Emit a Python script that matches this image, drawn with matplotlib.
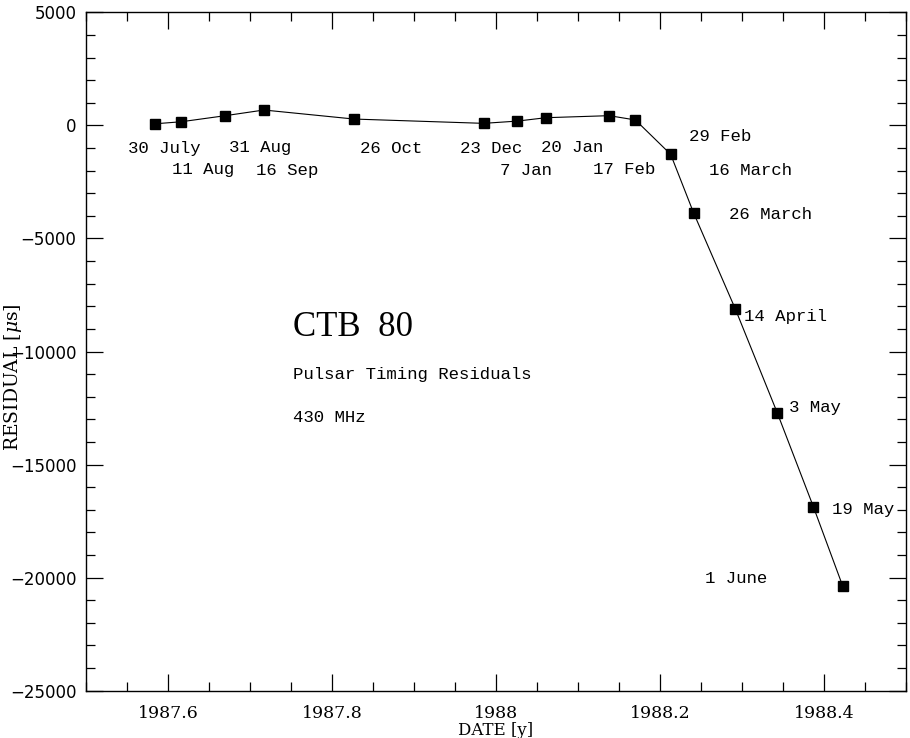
import matplotlib
matplotlib.use("Agg")
import matplotlib.pyplot as plt
from matplotlib.ticker import MultipleLocator, FuncFormatter

# observation epochs (decimal years) and timing residuals (microseconds)
dates = [1987.584, 1987.616, 1987.670, 1987.717, 1987.827, 1987.985, 1988.026, 1988.061,
         1988.138, 1988.170, 1988.213, 1988.241, 1988.292, 1988.343, 1988.387, 1988.423]
residuals = [70, 160, 430, 680, 280, 90, 190, 340,
             430, 240, -1280, -3870, -8130, -12710, -16860, -20390]
date_labels = ["30 July", "11 Aug", "31 Aug", "16 Sep", "26 Oct", "23 Dec", "7 Jan", "20 Jan",
               "17 Feb", "29 Feb", "16 March", "26 March", "14 April", "3 May", "19 May", "1 June"]

# label offsets from each point in pixels (dx right, dy down)
label_offsets = [(9, 25), (22, 48), (35, 32), (23, 60), (37, 29), (7, 25), (9, 49), (26, 30),
                 (15, 54), (85, 17), (80, 16), (77, 2), (50, 7), (38, -5), (50, 3), (-107, -8)]

plt.rcParams["mathtext.fontset"] = "dejavuserif"

fig = plt.figure(figsize=(9.1, 7.38), dpi=100)
ax = fig.add_axes([0.0945, 0.0641, 0.9011, 0.9192])

ax.plot(dates, residuals, color="black", lw=0.8, marker="s", ms=7.8,
        markerfacecolor="black", markeredgecolor="black")

mono = "Liberation Mono"
for x, y, lab, (dx, dy) in zip(dates, residuals, date_labels, label_offsets):
    ax.annotate(lab, (x, y), xytext=(dx, -dy), textcoords="offset pixels",
                ha="center", va="center", fontsize=12.5, family=mono)

ax.set_xlim(1987.5, 1988.5)
ax.set_ylim(-25000, 5000)
ax.xaxis.set_major_locator(MultipleLocator(0.2))
ax.xaxis.set_minor_locator(MultipleLocator(0.05))
ax.yaxis.set_major_locator(MultipleLocator(5000))
ax.yaxis.set_minor_locator(MultipleLocator(1000))
ax.xaxis.set_major_formatter(FuncFormatter(lambda v, p: "%g" % round(v, 1)))

ax.tick_params(which="both", direction="in", top=True, right=True, width=0.9)
ax.tick_params(which="major", length=12)
ax.tick_params(which="minor", length=6.5)
ax.tick_params(axis="x", pad=10)
ax.tick_params(axis="y", pad=7)
for t in ax.get_xticklabels():
    t.set_family("DejaVu Serif")
    t.set_fontsize(12.5)
for t in ax.get_yticklabels():
    t.set_family("DejaVu Sans")
    t.set_fontsize(12)
for s in ax.spines.values():
    s.set_linewidth(1.0)

ax.set_xlabel("DATE [y]", family="DejaVu Serif", fontsize=12, labelpad=0)
ax.set_ylabel(r"RESIDUAL [$\mu$s]", family="DejaVu Serif", fontsize=13.5, va="center")
ax.yaxis.set_label_coords(-0.089, 0.462)

ax.text(293, 738 - 327, "CTB  80", transform=None, fontsize=25, family="Liberation Serif",
        ha="left", va="center")
ax.text(293, 738 - 375, "Pulsar Timing Residuals", transform=None, fontsize=12.5,
        family=mono, ha="left", va="center")
ax.text(293, 738 - 418, "430 MHz", transform=None, fontsize=12.5,
        family=mono, ha="left", va="center")

fig.savefig("out.png", dpi=100)
